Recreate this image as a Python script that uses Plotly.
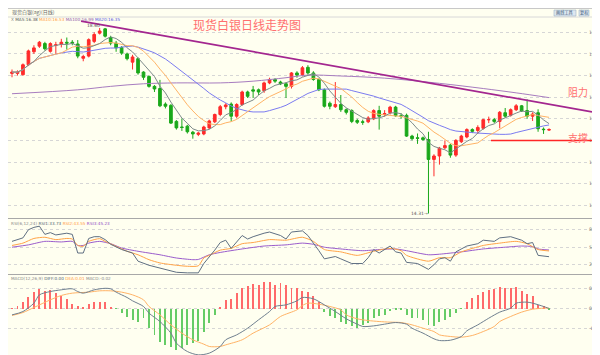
import plotly.graph_objects as go
import pandas as pd

# ---------------- data ----------------
opens = [17.55, 17.55, 17.52, 17.75, 18.05, 18.18, 18.24, 18.06, 18.20, 18.23,
         18.27, 18.27, 18.23, 17.90, 17.95, 18.29, 18.48, 18.58, 18.38, 18.25,
         18.15, 18.00, 17.81, 17.89, 17.58, 17.48, 17.25, 17.20, 16.84, 16.81,
         16.44, 16.31, 16.33, 16.19, 16.14, 16.15, 16.29, 16.43, 16.60, 16.78,
         16.84, 16.56, 16.83, 17.12, 17.17, 17.17, 17.15, 17.33, 17.41, 17.35,
         17.31, 17.25, 17.56, 17.52, 17.69, 17.56, 17.41, 17.17, 16.86, 16.78,
         16.83, 16.71, 16.69, 16.46, 16.43, 16.43, 16.50, 16.69, 16.60, 16.64,
         16.77, 16.57, 16.58, 16.10, 16.06, 16.06, 16.02, 15.56, 15.64, 15.83,
         15.89, 15.66, 15.97, 16.08, 16.25, 16.23, 16.28, 16.48, 16.48, 16.44,
         16.64, 16.58, 16.71, 16.80, 16.69, 16.56, 16.64, 16.26, 16.24]
closes = [17.58, 17.58, 17.75, 18.07, 18.14, 18.27, 18.12, 18.24, 18.21, 18.27,
          18.25, 18.25, 17.95, 17.94, 18.33, 18.45, 18.53, 18.41, 18.25, 18.14,
          18.02, 17.89, 17.93, 17.56, 17.46, 17.25, 17.19, 16.80, 16.79, 16.40,
          16.29, 16.30, 16.20, 16.15, 16.17, 16.31, 16.45, 16.60, 16.78, 16.82,
          16.56, 16.83, 17.12, 17.02, 17.14, 17.12, 17.33, 17.41, 17.37, 17.31,
          17.25, 17.56, 17.51, 17.68, 17.56, 17.41, 17.17, 16.79, 16.79, 16.83,
          16.71, 16.65, 16.44, 16.42, 16.42, 16.52, 16.69, 16.56, 16.62, 16.77,
          16.57, 16.56, 16.10, 16.04, 16.05, 16.02, 15.56, 15.64, 15.82, 15.88,
          15.66, 16.00, 16.10, 16.25, 16.21, 16.30, 16.48, 16.48, 16.44, 16.65,
          16.56, 16.71, 16.80, 16.68, 16.56, 16.61, 16.27, 16.25, 16.25]
highs = [17.64, 17.62, 17.78, 18.10, 18.20, 18.30, 18.28, 18.27, 18.28, 18.35,
         18.38, 18.32, 18.32, 17.98, 18.36, 18.50, 18.60, 18.60, 18.42, 18.30,
         18.18, 18.03, 17.98, 17.92, 17.60, 17.50, 17.28, 17.40, 16.88, 16.84,
         16.47, 16.51, 16.36, 16.22, 16.20, 16.34, 16.48, 16.62, 16.82, 16.86,
         16.88, 16.86, 17.15, 17.15, 17.26, 17.20, 17.36, 17.45, 17.44, 17.38,
         17.34, 17.58, 17.60, 17.72, 17.74, 17.60, 17.43, 17.20, 16.90, 17.35,
         17.05, 16.74, 16.72, 16.50, 16.48, 16.56, 16.72, 16.80, 16.70, 16.80,
         16.80, 16.63, 16.62, 16.13, 16.16, 16.09, 16.20, 15.68, 15.85, 16.00,
         15.92, 16.03, 16.13, 16.28, 16.28, 16.35, 16.50, 16.55, 16.52, 16.68,
         16.75, 16.74, 16.84, 16.82, 16.95, 16.65, 16.72, 16.30, 16.28]
lows = [17.46, 17.50, 17.50, 17.72, 18.00, 18.14, 18.08, 18.03, 18.00, 18.15,
        18.10, 18.20, 17.90, 17.83, 17.92, 18.25, 18.45, 18.38, 18.20, 18.05,
        17.98, 17.85, 17.64, 17.52, 17.40, 17.22, 17.12, 16.77, 16.74, 16.38,
        16.25, 16.22, 16.16, 16.04, 16.10, 16.12, 16.26, 16.40, 16.56, 16.72,
        16.44, 16.52, 16.80, 16.98, 16.98, 17.05, 17.10, 17.30, 17.33, 17.28,
        16.98, 17.20, 17.45, 17.48, 17.52, 17.38, 17.14, 16.76, 16.72, 16.75,
        16.66, 16.60, 16.40, 16.38, 16.36, 16.40, 16.47, 16.25, 16.55, 16.60,
        16.55, 16.50, 16.08, 16.00, 15.92, 15.99, 14.31, 15.17, 15.44, 15.80,
        15.60, 15.62, 15.94, 16.05, 16.17, 16.15, 16.25, 16.40, 16.40, 16.28,
        16.52, 16.55, 16.68, 16.66, 16.50, 16.45, 16.20, 16.15, 16.22]
days = list(range(len(closes)))

ma100_days = [0, 12, 18, 24, 30, 38, 44, 50, 54, 60, 68, 78, 86, 92, 98]
ma100_vals = [17.08, 17.17, 17.25, 17.31, 17.33, 17.33, 17.37, 17.45, 17.51, 17.49,
              17.44, 17.32, 17.20, 17.10, 16.99]

rsi1_days = [0, 2, 3, 4, 5, 6, 7, 8, 10, 11, 12, 13, 14, 15, 16, 17, 18, 20, 22, 23, 25, 27,
             30, 32, 34, 35, 36, 37, 38, 39, 40, 41, 42, 43, 44, 46, 47, 49, 50, 51, 53, 54,
             55, 56, 57, 59, 60, 62, 64, 65, 66, 67, 69, 70, 71, 72, 74, 76, 77, 78, 79, 80,
             81, 83, 85, 86, 88, 89, 91, 93, 94, 95, 96, 98]
rsi1_vals = [60, 66, 80, 84, 86, 72, 75, 71, 74, 72, 40, 40, 65, 68, 68, 63, 55, 46, 40, 26, 19, 14,
             7, 6, 6, 22, 33, 45, 58, 62, 48, 60, 70, 64, 68, 74, 76, 70, 64, 76, 78, 70,
             58, 44, 30, 34, 30, 22, 22, 32, 46, 40, 52, 42, 40, 24, 22, 12, 20, 30, 32, 26,
             42, 52, 56, 62, 60, 66, 68, 62, 56, 58, 36, 33.73]
rsi2_days = [0, 2, 4, 6, 8, 10, 11, 12, 13, 14, 16, 17, 19, 21, 23, 25, 27, 30, 32, 34, 35, 36,
             38, 40, 42, 44, 47, 50, 53, 55, 57, 60, 63, 66, 69, 71, 72, 76, 78, 80, 82, 86,
             89, 92, 94, 96, 98]
rsi2_vals = [53, 57, 65, 67, 63, 65, 64, 53, 51.5, 60, 64.6, 60, 51.5, 43, 37, 28.6, 23, 19, 17.3, 18, 31.5, 36,
             45, 48, 56, 58, 63, 62, 67, 60, 46, 42, 36, 43, 48, 44, 36, 26, 32, 32, 42, 53,
             57, 60, 56, 46, 43.55]
rsi3_days = [0, 3, 6, 9, 11, 12, 13, 14, 16, 18, 20, 23, 27, 30, 33, 34, 36, 38, 42, 46, 50, 53,
             55, 57, 60, 64, 67, 70, 72, 76, 78, 82, 86, 90, 93, 95, 96, 98]
rsi3_vals = [50, 54, 60, 59, 60, 53, 53, 57, 60, 56, 48.6, 43, 37, 31.5, 28.6, 29, 37, 41, 47, 52, 54, 57,
             55, 50, 47, 44, 46, 47, 44, 37, 38, 42, 47, 50, 52, 51, 47, 45.23]

macd_bar = [0.003, 0.02, 0.063, 0.109, 0.162, 0.195, 0.178, 0.185, 0.152, 0.119,
            0.096, 0.043, 0.02, 0.01, 0.043, 0.063, 0.069, 0.063, 0.01, -0.003,
            -0.046, -0.089, -0.112, -0.129, -0.096, -0.195, -0.261, -0.327, -0.36, -0.386,
            -0.409, -0.393, -0.36, -0.343, -0.32, -0.228, -0.145, -0.063, 0.01, 0.086,
            0.096, 0.152, 0.201, 0.218, 0.241, 0.234, 0.261, 0.267, 0.234, 0.251,
            0.234, 0.201, 0.201, 0.175, 0.168, 0.119, 0.069, -0.03, -0.079, -0.096,
            -0.129, -0.155, -0.172, -0.195, -0.162, -0.145, -0.096, -0.079, -0.063, -0.023,
            -0.013, -0.007, -0.063, -0.096, -0.096, -0.112, -0.162, -0.178, -0.129, -0.112,
            -0.089, -0.046, -0.003, 0.063, 0.102, 0.135, 0.168, 0.185, 0.195, 0.208,
            0.201, 0.201, 0.208, 0.175, 0.142, 0.119, 0.036, 0.02, -0.013]
diff_days = [0, 2, 4, 5, 7, 9, 11, 12, 13, 15, 17, 18, 19, 21, 22, 24, 25, 27, 29, 30,
             32, 34, 36, 38, 39, 41, 43, 45, 47, 48, 50, 52, 53, 55, 57, 59, 61, 63, 64, 66,
             68, 70, 72, 73, 75, 77, 78, 80, 82, 83, 85, 87, 89, 91, 92, 94, 95, 97, 98]
diff_vals = [-0.063, -0.03, 0.053, 0.135, 0.168, 0.185, 0.195, 0.168, 0.152, 0.185,
             0.2, 0.195, 0.162, 0.109, 0.076, 0.02, -0.046, -0.129, -0.244, -0.343,
             -0.426, -0.459, -0.442, -0.376, -0.31, -0.261, -0.195, -0.112, -0.03, 0.02,
             0.036, 0.076, 0.109, 0.096, 0.036, -0.03, -0.102, -0.155, -0.178, -0.172,
             -0.155, -0.139, -0.155, -0.195, -0.244, -0.3, -0.317, -0.314, -0.277, -0.221,
             -0.162, -0.096, -0.036, 0.003, 0.053, 0.063, 0.053, 0.02, 0.0]
dea_days = [0, 2, 4, 7, 9, 11, 14, 16, 18, 20, 22, 24, 25, 27, 29, 31, 33, 35, 36, 38,
            39, 42, 44, 47, 49, 52, 53, 54, 56, 58, 60, 61, 63, 65, 67, 69, 71, 73, 75, 77,
            78, 80, 82, 84, 86, 88, 89, 91, 93, 95, 97, 98]
dea_vals = [-0.069, -0.04, 0.01, 0.086, 0.129, 0.152, 0.162, 0.175, 0.175, 0.162,
            0.135, 0.086, 0.02, -0.063, -0.162, -0.244, -0.31, -0.353, -0.376, -0.376,
            -0.36, -0.31, -0.244, -0.162, -0.079, -0.013, 0.03, 0.053, 0.043, 0.02,
            -0.013, -0.063, -0.102, -0.119, -0.129, -0.135, -0.139, -0.162, -0.195, -0.228,
            -0.261, -0.277, -0.284, -0.267, -0.228, -0.178, -0.129, -0.079, -0.036, -0.007,
            0.003, 0.003]

month_labels = ["2017/03", "04", "05", "06", "07", "08"]
month_days = [0.6, 7.7, 26.6, 49.8, 71.7, 92.7]
price_ticks = [14.5, 15.0, 15.5, 16.0, 16.5, 17.0, 17.5, 18.0, 18.5]
rsi_ticks = [20, 50, 80]
macd_ticks = [-0.2, 0, 0.2]
macd_ticktext = ["-0.20", "0", "0.20"]

trend_days = [12.6, 105.84]
trend_prices = [18.76, 16.66]
support_days = [87.4, 105.84]
support_price = 16.0
high_label = "18.60"
low_label = "14.31"

# ---------------- derived moving averages ----------------
cs = pd.Series(closes)
ma5 = cs.rolling(5, min_periods=1).mean()
ma10 = cs.rolling(10, min_periods=1).mean()
ma20 = cs.rolling(20, min_periods=1).mean()

W, H = 600, 355
def fy(p):
    return 1 - p / H
def fx(p):
    return p / W

BG = "#fffff0"
XR = [-0.73, 105.84]
XD = [0, fx(584)]
YPOS = fx(580)

fig = go.Figure()
fig.add_trace(go.Candlestick(
    x=days, open=opens, high=highs, low=lows, close=closes,
    increasing=dict(line=dict(color="#ff2a2a", width=1), fillcolor="#ff2a2a"),
    decreasing=dict(line=dict(color="#1aa81a", width=1), fillcolor="#1aa81a"),
    whiskerwidth=0, xaxis="x", yaxis="y", hoverinfo="skip"))
fig.add_trace(go.Scatter(x=ma100_days, y=ma100_vals, mode="lines", line=dict(color="#a77cbf", width=1, shape="spline"), xaxis="x", yaxis="y"))
fig.add_trace(go.Scatter(x=days, y=ma20, mode="lines", line=dict(color="#7b7bf0", width=1), xaxis="x", yaxis="y"))
fig.add_trace(go.Scatter(x=days, y=ma10, mode="lines", line=dict(color="#ffb366", width=1), xaxis="x", yaxis="y"))
fig.add_trace(go.Scatter(x=days, y=ma5, mode="lines", line=dict(color="#7d8a8a", width=1), xaxis="x", yaxis="y"))

fig.add_trace(go.Scatter(x=rsi3_days, y=rsi3_vals, mode="lines", line=dict(color="#9a5ccc", width=1, shape="spline", smoothing=0.6), xaxis="x2", yaxis="y2"))
fig.add_trace(go.Scatter(x=rsi2_days, y=rsi2_vals, mode="lines", line=dict(color="#ffa347", width=1, shape="spline", smoothing=0.6), xaxis="x2", yaxis="y2"))
fig.add_trace(go.Scatter(x=rsi1_days, y=rsi1_vals, mode="lines", line=dict(color="#5f6f82", width=1), xaxis="x2", yaxis="y2"))

bar_colors = ["#ff6a6a" if v >= 0 else "#66cc66" for v in macd_bar]
fig.add_trace(go.Bar(x=days, y=macd_bar, marker=dict(color=bar_colors, line=dict(width=0)), width=0.17, xaxis="x3", yaxis="y3"))
fig.add_trace(go.Scatter(x=dea_days, y=dea_vals, mode="lines", line=dict(color="#ffb366", width=1, shape="spline", smoothing=0.8), xaxis="x3", yaxis="y3"))
fig.add_trace(go.Scatter(x=diff_days, y=diff_vals, mode="lines", line=dict(color="#6f7f8f", width=1, shape="spline", smoothing=0.8), xaxis="x3", yaxis="y3"))

tickfont = dict(size=4.6, color="#777777", family="DejaVu Sans")
grid = dict(showgrid=True, gridcolor="#d6d6d6", griddash="dot", gridwidth=1, zeroline=False, ticks="",
            side="right", fixedrange=True, anchor="free", position=YPOS)

fig.update_layout(
    width=W, height=H, margin=dict(l=0, r=0, t=0, b=0),
    paper_bgcolor=BG, plot_bgcolor=BG, showlegend=False, bargap=0,
    xaxis=dict(domain=XD, range=XR, anchor="y", showticklabels=False, showgrid=False, zeroline=False,
               rangeslider=dict(visible=False), fixedrange=True),
    xaxis2=dict(domain=XD, range=XR, anchor="y2", matches="x", showticklabels=False, showgrid=False, zeroline=False),
    xaxis3=dict(domain=XD, range=XR, anchor="y3", matches="x", showgrid=False, zeroline=False,
                showticklabels=False),
    yaxis=dict(domain=[fy(210), fy(9)], range=[14.206, 18.854],
               tickvals=price_ticks, ticktext=[f"{v:.1f}" for v in price_ticks], tickfont=tickfont, **grid),
    yaxis2=dict(domain=[fy(266), fy(211)], range=[4.06, 98.34],
                tickvals=rsi_ticks, ticktext=[str(v) for v in rsi_ticks], tickfont=tickfont, **grid),
    yaxis3=dict(domain=[fy(347), fy(267)], range=[-0.4604, 0.3317],
                tickvals=macd_ticks, ticktext=macd_ticktext, tickfont=tickfont, **grid),
)

shapes = []
# trend line (resistance) and support line
shapes.append(dict(type="line", xref="x", yref="y", x0=trend_days[0], y0=trend_prices[0],
                   x1=trend_days[1], y1=trend_prices[1], line=dict(color="#a3268f", width=1.8)))
shapes.append(dict(type="line", xref="x", yref="y", x0=support_days[0], y0=support_price,
                   x1=support_days[1], y1=support_price, line=dict(color="#ff2626", width=1.5)))
# frame lines
sep = "#a8a8a8"
for yy in [210.5, 266.5, 347.5]:
    shapes.append(dict(type="line", xref="paper", yref="paper", x0=0, x1=fx(584), y0=fy(yy), y1=fy(yy),
                       line=dict(color=sep, width=1)))
shapes.append(dict(type="line", xref="paper", yref="paper", x0=fx(584.5), x1=fx(584.5), y0=0, y1=fy(9),
                   line=dict(color=sep, width=1)))
shapes.append(dict(type="line", xref="paper", yref="paper", x0=0, x1=1, y0=fy(9), y1=fy(9),
                   line=dict(color="#d8d8d8", width=1)))
shapes.append(dict(type="line", xref="paper", yref="paper", x0=0, x1=1, y0=fy(0.5), y1=fy(0.5),
                   line=dict(color="#c8c8c8", width=1)))
# header buttons
for x0, x1 in [(546, 568), (571, 581), (586, 599)]:
    shapes.append(dict(type="rect", xref="paper", yref="paper", x0=fx(x0), x1=fx(x1), y0=fy(8), y1=fy(2),
                       fillcolor="#dde7f0", line=dict(color="#9fb3c6", width=0.6)))
shapes.append(dict(type="rect", xref="paper", yref="paper", x0=fx(584.5), x1=fx(600), y0=fy(355), y1=fy(347.5),
                   fillcolor=BG, line=dict(color=sep, width=0.8)))
fig.update_layout(shapes=shapes)

ann = []
def text(x, y, s, size=6, color="#555555", xanchor="left", family="Noto Sans CJK SC", yanchor="middle"):
    ann.append(dict(x=fx(x), y=fy(y), xref="paper", yref="paper", text=s, showarrow=False,
                    xanchor=xanchor, yanchor=yanchor, font=dict(size=size, color=color, family=family)))

# month labels on the shared day axis
for d, lab in zip(month_days, month_labels):
    ann.append(dict(x=d, y=fy(348), xref="x3", yref="paper", text=lab, showarrow=False,
                    xanchor="left" if d < 1 else "center", yanchor="top",
                    font=dict(size=4.2, color="#666666", family="DejaVu Sans")))

text(2, 4.5, "现货白银(ag)(日线)", size=5, color="#666666")
for bx, s in [(557, "画线工具"), (576, "复权"), (592.5, "设置")]:
    text(bx, 5, s, size=4.2, color="#3c5a78", xanchor="center")

text(1, 12, "<span style='color:#888888'>X</span> "
            "<span style='color:#555555'>MA5:16.38</span> "
            "<span style='color:#ff9a3c'>MA10:16.53</span> "
            "<span style='color:#8e5aa8'>MA100:16.99</span> "
            "<span style='color:#4f4fe0'>MA20:16.35</span>", size=4.2, family="DejaVu Sans")
text(1, 215, "<span style='color:#888888'>RSI(6,12,24)</span> "
             "<span style='color:#4f5f70'>RSI1:33.73</span> "
             "<span style='color:#ff9a3c'>RSI2:43.55</span> "
             "<span style='color:#8e4cc4'>RSI3:45.23</span>", size=4.2, family="DejaVu Sans")
text(1, 270.5, "<span style='color:#888888'>MACD(12,26,9)</span> "
               "<span style='color:#4f5f70'>DIFF:0.00</span> "
               "<span style='color:#ff9a3c'>DEA:0.01</span> "
               "<span style='color:#888888'>MACD:-0.02</span>", size=4.2, family="DejaVu Sans")

text(239, 16.5, "现货白银日线走势图", size=12, color="#ff6f6f", xanchor="center")
text(570, 83.5, "阻力", size=10, color="#ff6f6f", xanchor="center")
text(570, 129.5, "支撑", size=10, color="#ff6f6f", xanchor="center")
text(85, 17.5, high_label, size=4.5, color="#555555", xanchor="center", family="DejaVu Sans")
text(411, 205.5, low_label + "→", size=4.5, color="#555555", xanchor="center", family="DejaVu Sans")
text(585, 263, "0", size=4.6, color="#777777", family="DejaVu Sans")
text(592, 348.5, "日线", size=4.2, color="#555555", xanchor="center", yanchor="top")
fig.update_layout(annotations=ann)

fig.write_html("out.html")
